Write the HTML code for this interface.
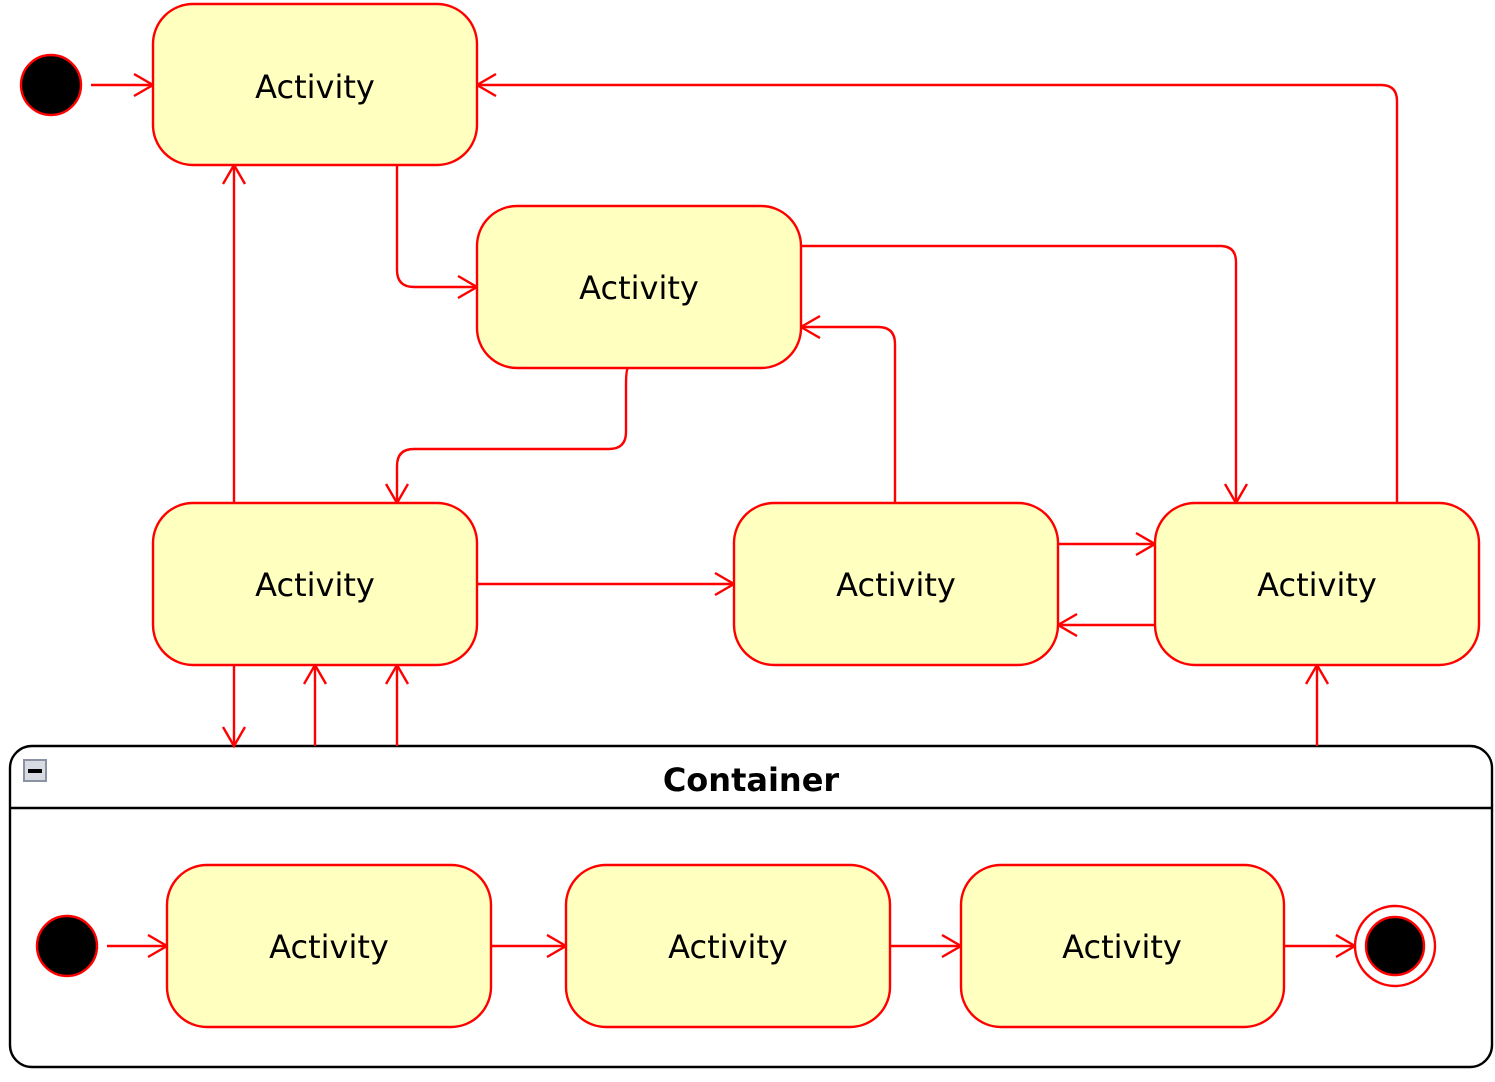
<!DOCTYPE html>
<html><head><meta charset="utf-8"><style>
html,body{margin:0;padding:0;background:#fff;}
svg{display:block;}
text{font-family:"DejaVu Sans","Liberation Sans",sans-serif;}
</style></head><body>
<svg width="1495" height="1082" viewBox="0 0 1495 1082" xmlns="http://www.w3.org/2000/svg">
<defs>
<marker id="a" markerUnits="userSpaceOnUse" markerWidth="30" markerHeight="30" refX="20" refY="12" orient="auto">
<path d="M1,1 L20,12 L1,23" fill="none" stroke="#f00" stroke-width="2.4"/>
</marker>
</defs>
<rect x="10" y="746" width="1482" height="321" rx="22" fill="#fff" stroke="#000" stroke-width="2.4"/>
<line x1="10" y1="808" x2="1492" y2="808" stroke="#000" stroke-width="2.4"/>
<rect x="24" y="760" width="22" height="21" fill="#d8dbe2" stroke="#8a92a4" stroke-width="2"/>
<rect x="28" y="769" width="14" height="4" fill="#000"/>
<text x="751" y="791" text-anchor="middle" font-size="32" font-weight="bold">Container</text>

<g fill="none" stroke="#f00" stroke-width="2.4">
<circle cx="51" cy="85" r="30" fill="#000"/>
<path d="M91,85 H153" marker-end="url(#a)"/>
<path d="M397,165 V270 Q397,287 414,287 H477" marker-end="url(#a)"/>
<path d="M1397,503 V101 Q1397,85 1381,85 H477" marker-end="url(#a)"/>
<path d="M801,246 H1220 Q1236,246 1236,262 V503" marker-end="url(#a)"/>
<path d="M895,503 V344 Q895,327 878,327 H801" marker-end="url(#a)"/>
<path d="M628,368 Q626,370 626,386 V432 Q626,449 609,449 H414 Q397,449 397,466 V503" marker-end="url(#a)"/>
<path d="M234,503 V165" marker-end="url(#a)"/>
<path d="M477,584 H734" marker-end="url(#a)"/>
<path d="M1058,544 H1155" marker-end="url(#a)"/>
<path d="M1155,625 H1058" marker-end="url(#a)"/>
<path d="M234,665 V746" marker-end="url(#a)"/>
<path d="M315,746 V665" marker-end="url(#a)"/>
<path d="M397,746 V665" marker-end="url(#a)"/>
<path d="M1317,746 V665" marker-end="url(#a)"/>
<circle cx="67" cy="946" r="30" fill="#000"/>
<path d="M107,946 H167" marker-end="url(#a)"/>
<path d="M491,946 H566" marker-end="url(#a)"/>
<path d="M890,946 H961" marker-end="url(#a)"/>
<path d="M1284,946 H1355" marker-end="url(#a)"/>
<circle cx="1395" cy="946" r="40" fill="#fff"/>
<circle cx="1395" cy="946" r="29" fill="#000"/>
</g>
<g fill="#ffffc0" stroke="#f00" stroke-width="2.4">
<rect x="153" y="4" width="324" height="161" rx="40"/>
<rect x="477" y="206" width="324" height="162" rx="40"/>
<rect x="153" y="503" width="324" height="162" rx="40"/>
<rect x="734" y="503" width="324" height="162" rx="40"/>
<rect x="1155" y="503" width="324" height="162" rx="40"/>
<rect x="167" y="865" width="324" height="162" rx="40"/>
<rect x="566" y="865" width="324" height="162" rx="40"/>
<rect x="961" y="865" width="323" height="162" rx="40"/>
</g>
<g font-size="32" text-anchor="middle" fill="#000">
<text x="315" y="98">Activity</text>
<text x="639" y="299">Activity</text>
<text x="315" y="596">Activity</text>
<text x="896" y="596">Activity</text>
<text x="1317" y="596">Activity</text>
<text x="329" y="958">Activity</text>
<text x="728" y="958">Activity</text>
<text x="1122" y="958">Activity</text>
</g>
</svg>
</body></html>
